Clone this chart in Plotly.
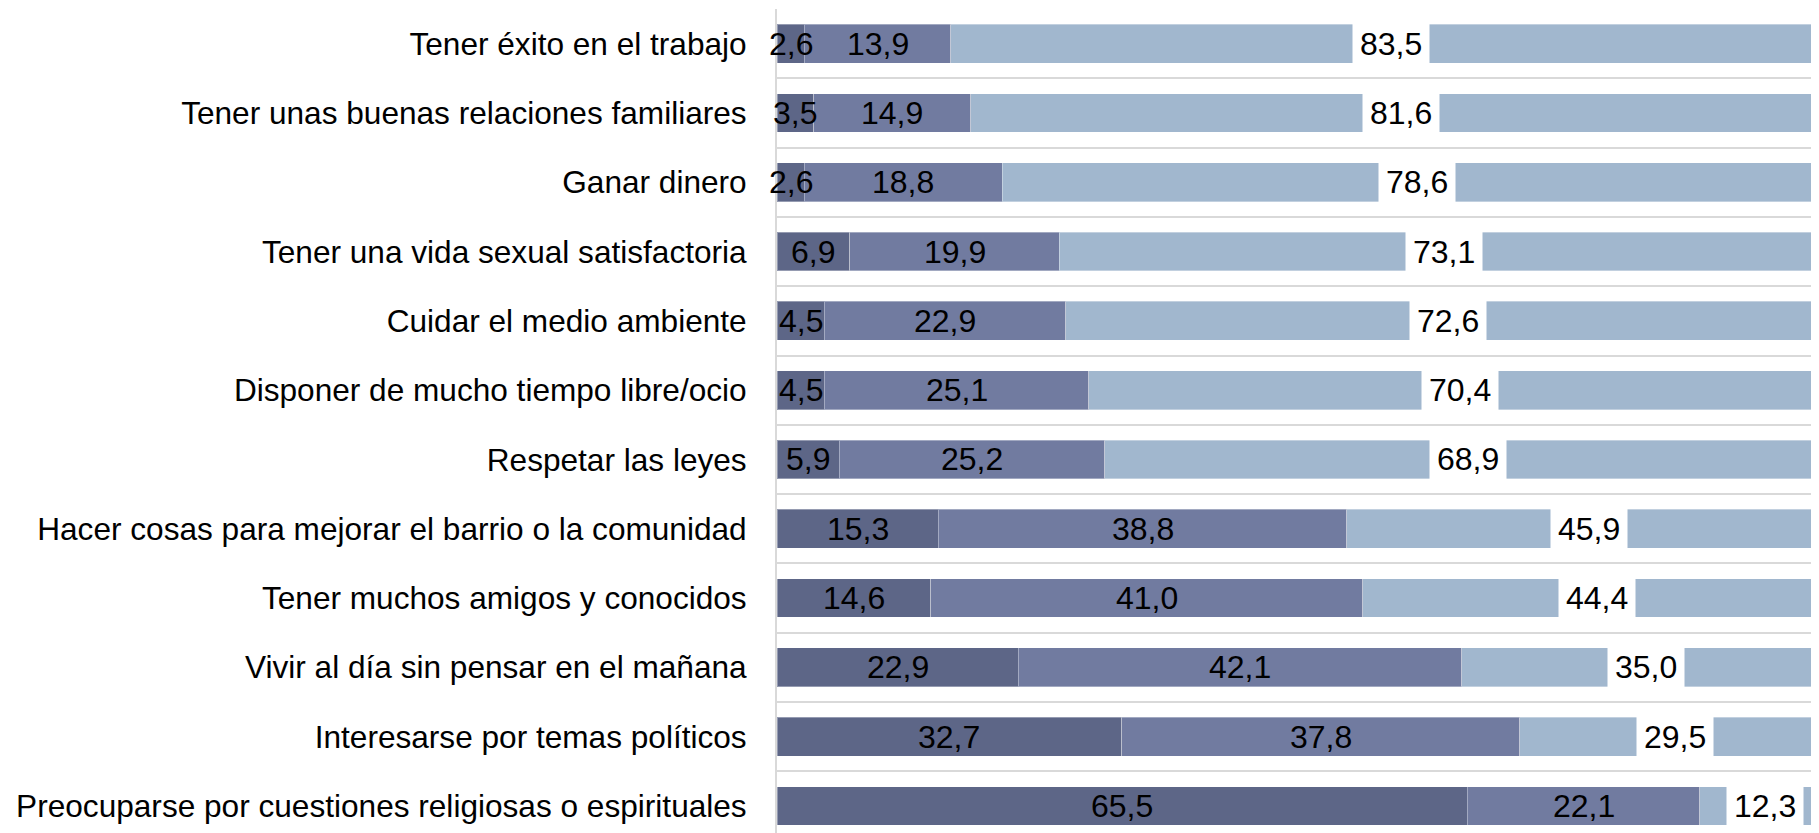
import plotly.graph_objects as go

categories = [
    "Tener éxito en el trabajo",
    "Tener unas buenas relaciones familiares",
    "Ganar dinero",
    "Tener una vida sexual satisfactoria",
    "Cuidar el medio ambiente",
    "Disponer de mucho tiempo libre/ocio",
    "Respetar las leyes",
    "Hacer cosas para mejorar el barrio o la comunidad",
    "Tener muchos amigos y conocidos",
    "Vivir al día sin pensar en el mañana",
    "Interesarse por temas políticos",
    "Preocuparse por cuestiones religiosas o espirituales",
]
nada = [2.6, 3.5, 2.6, 6.9, 4.5, 4.5, 5.9, 15.3, 14.6, 22.9, 32.7, 65.5]
algo = [13.9, 14.9, 18.8, 19.9, 22.9, 25.1, 25.2, 38.8, 41.0, 42.1, 37.8, 22.1]
muy = [83.5, 81.6, 78.6, 73.1, 72.6, 70.4, 68.9, 45.9, 44.4, 35.0, 29.5, 12.3]

series = [
    ("Nada importante", nada, "#5D6687"),
    ("Algo importante", algo, "#717BA0"),
    ("Muy importante", muy, "#A1B7CE"),
]

FONT = "Liberation Sans, Arial, sans-serif"
FS = 32

fig = go.Figure()
for name, vals, color in series:
    fig.add_trace(go.Bar(
        y=categories, x=vals, name=name, orientation="h",
        marker=dict(color=color, line=dict(color="rgba(255,255,255,0.35)", width=1)),
        hoverinfo="skip",
    ))

def fmt(v):
    return f"{v:.1f}".replace(".", ",")

annotations = []
for i, cat in enumerate(categories):
    start = 0.0
    for k, (name, vals, color) in enumerate(series):
        v = vals[i]
        ann = dict(
            x=start + v / 2, y=cat, xref="x", yref="y",
            text=fmt(v), showarrow=False,
            font=dict(family=FONT, size=FS, color="#000000"),
            xanchor="center", yanchor="middle",
        )
        if k == 2:
            ann.update(bgcolor="#FFFFFF", borderpad=7)
        annotations.append(ann)
        start += v

fig.update_layout(
    width=1811, height=825,
    margin=dict(l=769, r=0, t=1, b=0, pad=0),
    barmode="stack", bargap=0.44,
    plot_bgcolor="#FFFFFF", paper_bgcolor="#FFFFFF",
    showlegend=False,
    font=dict(family=FONT, size=FS, color="#000000"),
    annotations=annotations,
)
fig.update_xaxes(
    range=[0, 98.9], showgrid=False, zeroline=False, showticklabels=False,
    showline=False, fixedrange=True,
)
fig.update_yaxes(
    type="category", categoryorder="array", categoryarray=categories,
    range=[11.39, -0.5], tickson="boundaries", showgrid=True,
    gridcolor="#D9D9D9", gridwidth=2, ticks="",
    showline=True, linecolor="#D9D9D9", linewidth=2,
    ticklabelstandoff=22, automargin=False,
    tickfont=dict(family=FONT, size=31.6, color="#000000"),
)

fig.write_html("out.html")
